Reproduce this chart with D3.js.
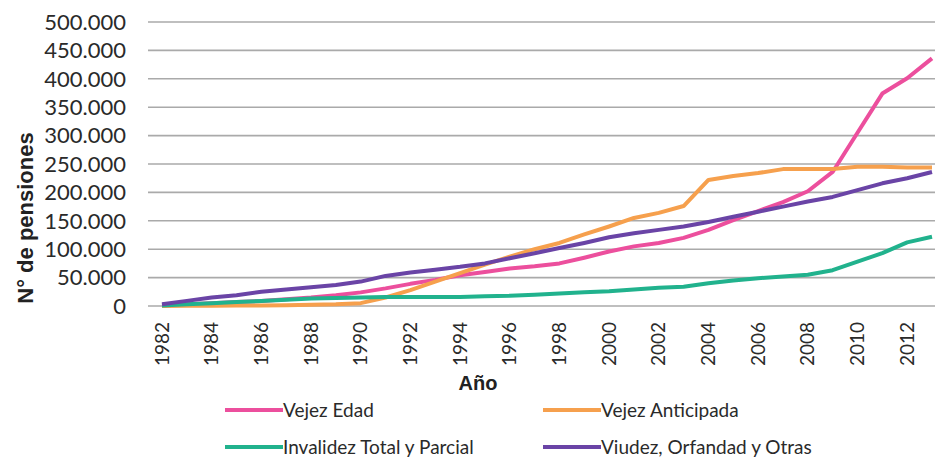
<!DOCTYPE html>
<html>
<head>
<meta charset="utf-8">
<script src="https://cdn.jsdelivr.net/npm/d3@7"></script>
<style>
  body { margin: 0; background: #fff; }
  svg { display: block; }
</style>
</head>
<body>
<svg id="chart" width="935" height="460"></svg>
<script>
// years shown on the category axis
const years = d3.range(1982, 2014);

// number of pensions by type, 1982-2013
const vejezEdad = [1000, 3000, 5000, 7000, 9000, 12000, 15000, 19000, 24000, 31000,
  39000, 46000, 54000, 60000, 66000, 70000, 75000, 85000, 96000, 105000,
  111000, 120000, 134000, 151000, 167000, 183000, 202000, 236000, 305000, 374000,
  401000, 436000];
const vejezAnticipada = [0, 300, 500, 700, 900, 1200, 2000, 3000, 5000, 15000,
  28000, 43000, 58000, 73000, 87000, 100000, 111000, 126000, 140000, 155000,
  164000, 176000, 222000, 229000, 234000, 241000, 241000, 241000, 245000, 245000,
  244000, 244000];
const invalidez = [1000, 3000, 5000, 7000, 9000, 11000, 13000, 14000, 15000, 16000,
  16000, 16000, 16000, 17000, 18000, 20000, 22000, 24000, 26000, 29000,
  32000, 34000, 40000, 45000, 49000, 52000, 55000, 63000, 78000, 93000,
  112000, 122000];
const viudez = [3000, 9000, 15000, 19000, 25000, 29000, 33000, 37000, 43000, 53000,
  59000, 64000, 69000, 75000, 84000, 93000, 102000, 111000, 121000, 128000,
  134000, 140000, 148000, 157000, 166000, 175000, 184000, 192000, 204000, 216000,
  225000, 236000];

const seriesNames = ["Vejez Edad", "Vejez Anticipada", "Invalidez Total y Parcial", "Viudez, Orfandad y Otras"];
const seriesColors = ["#ec4f9d", "#f6a04d", "#21b28d", "#6a44a6"];
const seriesValues = [vejezEdad, vejezAnticipada, invalidez, viudez];

const yTicks = d3.range(0, 500001, 50000);
const xTickYears = years.filter(y => y % 2 === 0 && y <= 2012);

const svg = d3.select("#chart");

const x = d3.scalePoint()
  .domain(years)
  .range([162, 932]);

const y = d3.scaleLinear()
  .domain([0, 500000])
  .range([306, 22]);

const fmt = v => d3.format(",")(v).replace(/,/g, ".");

// horizontal gridlines
svg.append("g")
  .selectAll("line")
  .data(yTicks)
  .join("line")
  .attr("x1", 148)
  .attr("x2", 935)
  .attr("y1", d => y(d))
  .attr("y2", d => y(d))
  .attr("stroke", "#aaaaaa")
  .attr("stroke-width", 1.6);

// y axis labels
svg.append("g")
  .selectAll("text")
  .data(yTicks)
  .join("text")
  .attr("x", 126)
  .attr("y", d => y(d))
  .attr("dy", "0.35em")
  .attr("text-anchor", "end")
  .attr("font-family", "Lato, sans-serif")
  .attr("font-size", 22)
  .attr("fill", "#2a2a2a")
  .text(fmt);

// x axis labels (rotated)
svg.append("g")
  .selectAll("text")
  .data(xTickYears)
  .join("text")
  .attr("transform", d => `translate(${x(d)},322) rotate(-90)`)
  .attr("dy", "0.35em")
  .attr("text-anchor", "end")
  .attr("font-family", "Lato, sans-serif")
  .attr("font-size", 19)
  .attr("fill", "#2a2a2a")
  .text(d => d);

// axis titles
svg.append("text")
  .attr("x", 478)
  .attr("y", 383)
  .attr("dy", "0.35em")
  .attr("text-anchor", "middle")
  .attr("font-family", "Liberation Sans, Arial, sans-serif")
  .attr("font-weight", "bold")
  .attr("font-size", 20)
  .attr("fill", "#222")
  .text("Año");

svg.append("text")
  .attr("transform", "translate(25,218) rotate(-90)")
  .attr("dy", "0.35em")
  .attr("text-anchor", "middle")
  .attr("font-family", "Liberation Sans, Arial, sans-serif")
  .attr("font-weight", "bold")
  .attr("font-size", 22)
  .attr("fill", "#222")
  .text("N° de pensiones");

// lines
const line = d3.line()
  .x((d, i) => x(years[i]))
  .y(d => y(d));

svg.append("g")
  .selectAll("path")
  .data(seriesValues)
  .join("path")
  .attr("d", line)
  .attr("fill", "none")
  .attr("stroke", (d, i) => seriesColors[i])
  .attr("stroke-width", 4)
  .attr("stroke-linejoin", "round");

// legend
const legendPos = [[225, 410], [543, 410], [225, 447], [543, 447]];
const legend = svg.append("g")
  .selectAll("g")
  .data(seriesNames)
  .join("g")
  .attr("transform", (d, i) => `translate(${legendPos[i][0]},${legendPos[i][1]})`);

legend.append("line")
  .attr("x1", 0)
  .attr("x2", 58)
  .attr("stroke", (d, i) => seriesColors[i])
  .attr("stroke-width", 4);

legend.append("text")
  .attr("x", 58)
  .attr("dy", "0.35em")
  .attr("font-family", "Lato, sans-serif")
  .attr("font-size", 19)
  .attr("fill", "#2a2a2a")
  .text(d => d);
</script>
</body>
</html>
